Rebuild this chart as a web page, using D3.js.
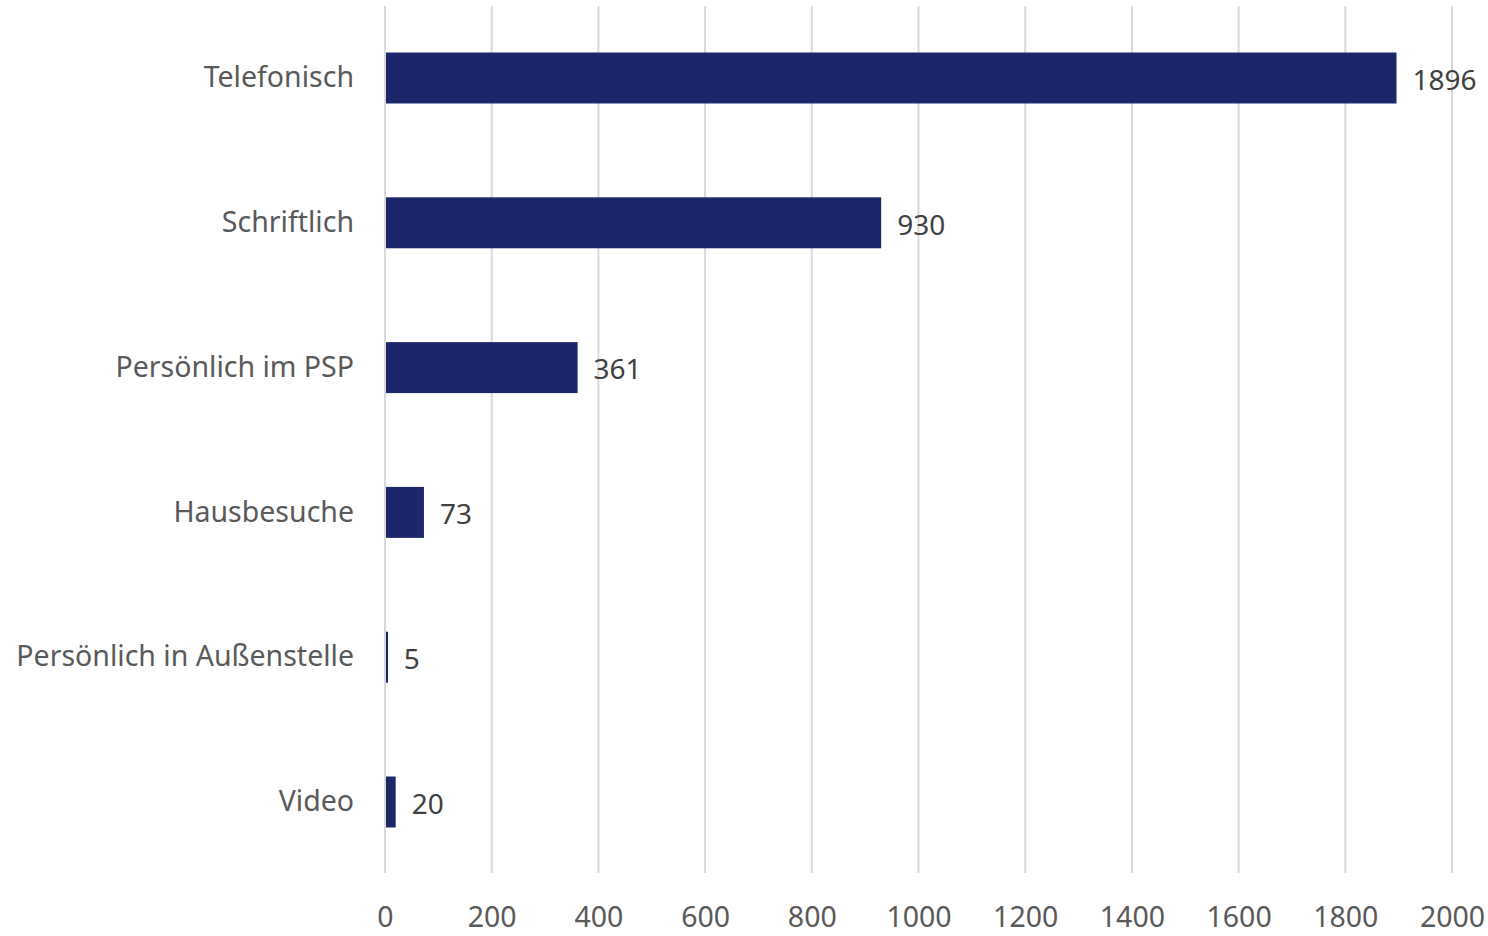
<!DOCTYPE html>
<html>
<head>
<meta charset="utf-8">
<script src="https://cdn.jsdelivr.net/npm/d3@7"></script>
<style>
  body { margin: 0; background: #fff; }
  text { font-family: "Noto Sans", sans-serif; }
</style>
</head>
<body>
<svg></svg>
<script>
const width = 1488;
const height = 936;

const categories = ["Telefonisch", "Schriftlich", "Persönlich im PSP", "Hausbesuche", "Persönlich in Außenstelle", "Video"];
const values = [1896, 930, 361, 73, 5, 20];
const xTicks = [0, 200, 400, 600, 800, 1000, 1200, 1400, 1600, 1800, 2000];

let svg = d3.select("svg").attr("width", width).attr("height", height);

const x = d3.scaleLinear().domain([0, 2000]).range([385, 1452]);
const y = d3.scaleBand().domain(categories).range([5.6, 874.4]).paddingInner(0.648).paddingOuter(0.324);

// gridlines
svg.append("g").selectAll("line").data(xTicks).join("line")
    .attr("x1", d => x(d)).attr("x2", d => x(d))
    .attr("y1", 6).attr("y2", 873)
    .attr("stroke", "#d9d9d9").attr("stroke-width", 2);

// bars
svg.append("g").selectAll("rect").data(values).join("rect")
    .attr("x", x(0) + 1)
    .attr("y", (d, i) => y(categories[i]))
    .attr("width", d => Math.max(x(d) - x(0) - 1, 2))
    .attr("height", y.bandwidth())
    .attr("fill", "#1c2769");

// value labels
svg.append("g").selectAll("text").data(values).join("text")
    .attr("x", d => x(d) + 16)
    .attr("y", (d, i) => y(categories[i]) + y.bandwidth() / 2 + 2)
    .attr("dy", "0.35em")
    .attr("font-size", 28)
    .attr("fill", "#404040")
    .text(d => d);

// category axis
const yAxis = d3.axisLeft(y).tickSize(0).tickPadding(31);
const gy = svg.append("g").attr("transform", `translate(${x(0)},0)`).call(yAxis);
gy.select(".domain").remove();
gy.selectAll("text").attr("font-size", 28.5).attr("fill", "#595959").style("font-family", "Noto Sans");

// value axis
const xAxis = d3.axisBottom(x).tickValues(xTicks).tickFormat(d3.format("d")).tickSize(0).tickPadding(34);
const gx = svg.append("g").attr("transform", "translate(0,873)").call(xAxis);
gx.select(".domain").remove();
gx.selectAll("text").attr("font-size", 28.5).attr("fill", "#595959").style("font-family", "Noto Sans");
</script>
</body>
</html>
